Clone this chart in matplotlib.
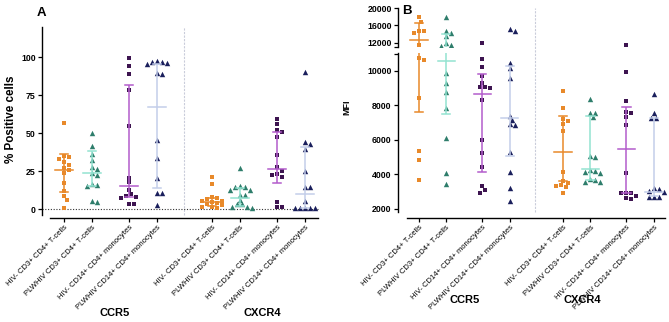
import matplotlib
matplotlib.use('Agg')
import matplotlib.pyplot as plt
import numpy as np

plt.rcParams['font.family'] = ['Liberation Sans', 'DejaVu Sans']

# ---------------- data ----------------
categories = ["HIV- CD3+ CD4+ T-cells", "PLWHIV CD3+ CD4+ T-cells",
              "HIV- CD14+ CD4+ monocytes", "PLWHIV CD14+ CD4+ monocytes",
              "HIV- CD3+ CD4+ T-cells", "PLWHIV CD3+ CD4+ T-cells",
              "HIV- CD14+ CD4+ monocytes", "PLWHIV CD14+ CD4+ monocytes"]
groups = ["CCR5", "CXCR4"]

# Panel A: % positive cells
a_ccr5_hiv_cd3 = [57, 34.9, 34.4, 32.7, 30.7, 28.9, 27.2, 25.7, 23.5, 17.3, 12.1, 8.8, 5.9, 0.4]
a_ccr5_plwhiv_cd3 = [50.2, 41.4, 36.6, 32.2, 27.8, 26.1, 23.5, 22.4, 16.2, 15.8, 15.1, 5.3, 4.8]
a_ccr5_hiv_cd14 = [99.8, 94.3, 88.8, 78.7, 54.8, 20.6, 17.6, 12.5, 9.9, 8.8, 8.1, 7.0, 3.3, 3.3]
a_ccr5_plwhiv_cd14 = [97.4, 97.2, 96.9, 96.2, 95.8, 89.7, 89.3, 45.4, 33.8, 20.6, 10.7, 10.3, 2.6]
a_cxcr4_hiv_cd3 = [21.3, 16.4, 7.8, 7.4, 6.5, 5.6, 5.0, 4.5, 4.0, 3.2, 2.6, 1.6, 1.2, 0.8]
a_cxcr4_plwhiv_cd3 = [26.8, 14.9, 14.7, 14.5, 12.5, 12.3, 9.2, 9.0, 5.9, 3.1, 3.0, 1.5, 1.4, 0.9]
a_cxcr4_hiv_cd14 = [59.2, 55.9, 52.0, 50.9, 47.6, 35.5, 27.4, 25.0, 23.0, 22.4, 20.8, 4.8, 1.5, 1.5]
a_cxcr4_plwhiv_cd14 = [90.3, 44.3, 42.8, 39.9, 25.2, 14.7, 14.7, 5.3, 0.4, 0.4, 0.4, 0.4, 0.4]
a_median = [26, 24, 15.1, 67.3, 4.8, 7.5, 26.3, 9.9]
a_q1 = [11, 15, 8, 14, 1.8, 2, 16.9, 0.4]
a_q3 = [36, 38, 81.6, 95.5, 7.2, 14, 50.5, 41]

# Panel B: MFI
b_ccr5_hiv_cd3 = [17875, 16870, 14743, 14583, 14217, 11383, 10740, 10638, 8417, 5362, 4841, 3681]
b_ccr5_plwhiv_cd3 = [18011, 14743, 14300, 13440, 11930, 11400, 11150, 9902, 9287, 8800, 7872, 6098, 4069, 3432]
b_ccr5_hiv_cd14 = [11930, 10696, 10214, 9710, 9323, 9100, 9055, 8990, 8319, 6000, 5264, 4452, 3333, 3101, 2910]
b_ccr5_plwhiv_cd14 = [15200, 14583, 10480, 10190, 9610, 7391, 7159, 6928, 6870, 5287, 4162, 3235, 2481]
b_cxcr4_hiv_cd3 = [8860, 7838, 7217, 7120, 6928, 6522, 4127, 3623, 3525, 3391, 3350, 3293, 2945]
b_cxcr4_plwhiv_cd3 = [8358, 7547, 7547, 7316, 5090, 5032, 4261, 4220, 4164, 4100, 3720, 3681, 3580, 3550]
b_cxcr4_hiv_cd14 = [11500, 9960, 8266, 7641, 7583, 7352, 6870, 4069, 2945, 2945, 2945, 2754, 2618, 2560]
b_cxcr4_plwhiv_cd14 = [8667, 7547, 7300, 7258, 3200, 3142, 3060, 3000, 2713, 2713, 2713]
b_median = [12526, 10580, 8667, 7293, 5323, 4300, 5465, 3000]
b_q1 = [7641, 7490, 4162, 5072, 3600, 3700, 2900, 2750]
b_q3 = [16640, 13990, 9826, 10300, 7391, 7400, 7884, 7258]

a_series = [a_ccr5_hiv_cd3, a_ccr5_plwhiv_cd3, a_ccr5_hiv_cd14, a_ccr5_plwhiv_cd14,
            a_cxcr4_hiv_cd3, a_cxcr4_plwhiv_cd3, a_cxcr4_hiv_cd14, a_cxcr4_plwhiv_cd14]
b_series = [b_ccr5_hiv_cd3, b_ccr5_plwhiv_cd3, b_ccr5_hiv_cd14, b_ccr5_plwhiv_cd14,
            b_cxcr4_hiv_cd3, b_cxcr4_plwhiv_cd3, b_cxcr4_hiv_cd14, b_cxcr4_plwhiv_cd14]

# ---------------- style / layout ----------------
pos = [0, 1, 2.32, 3.32, 5.28, 6.28, 7.6, 8.6]
mk_colors = ['#E8892A', '#2E7D6B', '#3D1450', '#1A1F5C'] * 2
eb_colors = ['#E8892A', '#93E3D1', '#B35CCB', '#C3CEEA'] * 2
markers = ['s', '^', 's', '^'] * 2
msizes = [3.5, 3.9, 3.5, 3.9] * 2
B_BREAK = 11000

W, H = 669, 322
fig = plt.figure(figsize=(W / 100, H / 100), dpi=100)


def frac(x0, y0, x1, y1):
    return [x0 / W, 1 - y1 / H, (x1 - x0) / W, (y1 - y0) / H]


axA = fig.add_axes(frac(42, 27, 320, 218))
axBt = fig.add_axes(frac(398, 8, 667, 47))
axBb = fig.add_axes(frac(398, 53, 667, 218))

axA.set_xlim(-0.786, 9.143)
axA.set_ylim(-5.9, 120)
axBt.set_xlim(-0.769, 9.084)
axBb.set_xlim(-0.769, 9.084)
axBt.set_ylim(B_BREAK, 20000)
axBb.set_ylim(1478, 11043)

for ax in (axA, axBt, axBb):
    for s in ('top', 'right'):
        ax.spines[s].set_visible(False)
    ax.spines['left'].set_linewidth(1.0)
    ax.spines['bottom'].set_linewidth(1.0)
    ax.tick_params(axis='y', length=3, width=0.9, pad=1.5, labelsize=6.3)
    ax.tick_params(axis='x', length=3, width=0.9, pad=1.5, labelsize=5.5)

axA.spines['left'].set_bounds(-3.95, 120)
axA.spines['bottom'].set_bounds(-0.5, 9.07)
axBb.spines['left'].set_bounds(1826, 11043)
axBb.spines['bottom'].set_bounds(-0.44, 9.01)
axBt.spines['bottom'].set_visible(False)
axBt.set_xticks([])

axA.set_yticks([0, 25, 50, 75, 100])
axBt.set_yticks([11000, 12000, 16000, 20000])
axBt.set_yticklabels(['', '12000', '16000', '20000'])
axBb.set_yticks([2000, 4000, 6000, 8000, 10000, 11000])
axBb.set_yticklabels(['2000', '4000', '6000', '8000', '10000', ''])
for ax in (axA, axBt, axBb):
    for lab in ax.get_yticklabels():
        lab.set_fontweight('bold')

for ax in (axA, axBb):
    ax.set_xticks(pos)
    ax.set_xticklabels(categories, rotation=45, ha='right', rotation_mode='anchor', fontsize=5.5)

# reference lines
axA.axhline(0, xmin=0, xmax=(318 - 42) / 278, color='#333333', ls=(0, (1, 1.5)), lw=0.8, zorder=1)
axA.axvline(4.29, ymin=3 / 191, ymax=1, color='#C9CCDA', lw=0.8, ls=(0, (2, 1.2)), zorder=0)
axBb.axvline(4.25, ymin=6 / 165, ymax=(218 - 8) / 165, color='#C9CCDA', lw=0.8,
             ls=(0, (2, 1.2)), zorder=0, clip_on=False)


def swarm(vals, ax_for, unit_px, size_px=5.0):
    placed, offs = [], []
    cands = [0.0]
    for i in range(1, 12):
        cands += [i * 0.5, -i * 0.5]
    for v in vals:
        ax = ax_for(v)
        yp = ax.transData.transform((0, v))[1]
        xo = 0.0
        for c in cands:
            xo = c * size_px
            if all((xo - px) ** 2 + (yp - py) ** 2 >= (0.9 * size_px) ** 2 for px, py in placed):
                break
        placed.append((xo, yp))
        offs.append(xo / unit_px)
    return offs


def draw_stats(ax, x, med, q1, q3, color):
    ax.plot([x, x], [q1, q3], color=color, lw=1.1, zorder=3, solid_capstyle='butt')
    for q in (q1, q3):
        ax.plot([x - 0.15, x + 0.15], [q, q], color=color, lw=1.1, zorder=3)
    ax.plot([x - 0.32, x + 0.32], [med, med], color=color, lw=1.1, zorder=3)


# Panel A
for i, vals in enumerate(a_series):
    offs = swarm(vals, lambda v: axA, 28.0)
    axA.scatter(np.array(pos[i]) + np.array(offs), vals, marker=markers[i],
                s=msizes[i] ** 2, color=mk_colors[i], linewidths=0, zorder=2)
    draw_stats(axA, pos[i], a_median[i], a_q1[i], a_q3[i], eb_colors[i])

# Panel B (broken axis)
for i, vals in enumerate(b_series):
    offs = np.array(swarm(vals, lambda v: axBt if v > B_BREAK else axBb, 27.3))
    v = np.array(vals, dtype=float)
    top = v > B_BREAK
    for ax, m in ((axBt, top), (axBb, ~top)):
        ax.scatter(pos[i] + offs[m], v[m], marker=markers[i],
                   s=msizes[i] ** 2, color=mk_colors[i], linewidths=0, zorder=2)
        draw_stats(ax, pos[i], b_median[i], b_q1[i], b_q3[i], eb_colors[i])

# axis labels (rotated label anchor = right edge of its box)
axA.set_ylabel('% Positive cells', fontsize=8.4, fontweight='bold')
axA.yaxis.set_label_coords((17 - 42) / 278, (218 - 119) / 191)
axBb.set_ylabel('MFI', fontsize=6.5, fontweight='bold')
axBb.yaxis.set_label_coords((351 - 398) / 269, (218 - 107) / 165)

fig.text(41 / W, 1 - 12.5 / H, 'A', fontsize=9.5, fontweight='bold', ha='center', va='center')
fig.text(407 / W, 1 - 11 / H, 'B', fontsize=9.5, fontweight='bold', ha='center', va='center')

fig.text(115 / W, 1 - 313 / H, groups[0], fontsize=8, fontweight='bold', ha='center', va='center')
fig.text(262 / W, 1 - 313 / H, groups[1], fontsize=8, fontweight='bold', ha='center', va='center')
fig.text(465 / W, 1 - 300 / H, groups[0], fontsize=8, fontweight='bold', ha='center', va='center')
fig.text(582 / W, 1 - 300 / H, groups[1], fontsize=8, fontweight='bold', ha='center', va='center')

fig.savefig('out.png', dpi=100)
